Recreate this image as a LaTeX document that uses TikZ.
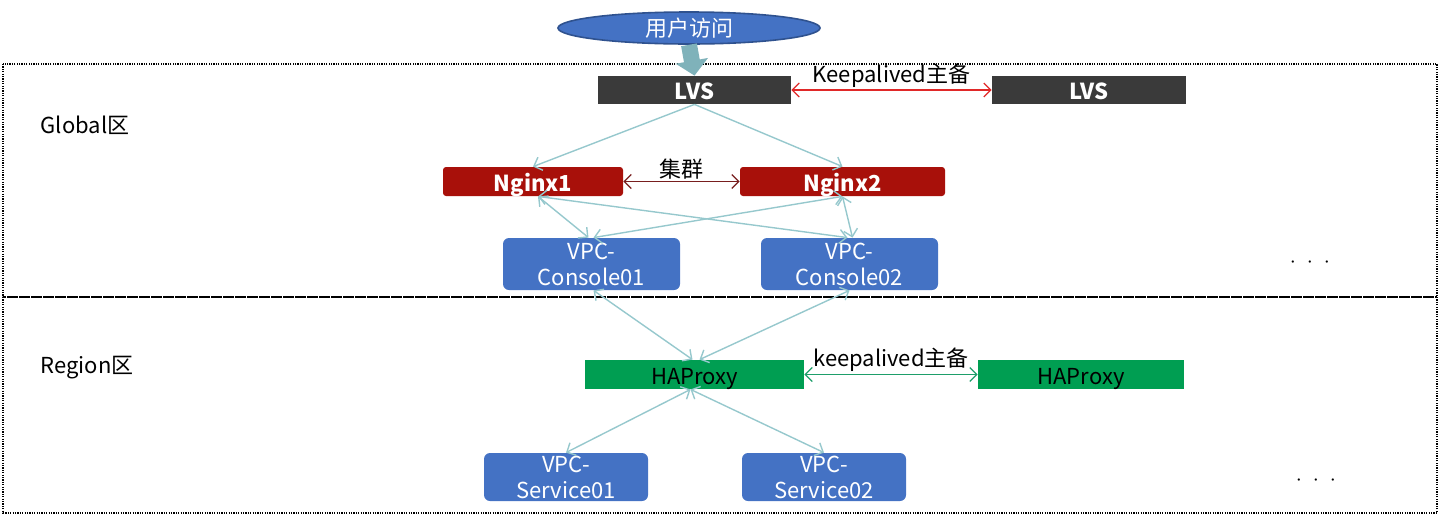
\documentclass[tikz,border=0pt]{standalone}
\usepackage{fontspec}
\setmainfont{Noto Sans CJK SC}
\usetikzlibrary{arrows.meta, positioning, calc, shapes.geometric}
\definecolor{cBlue}{RGB}{68,114,196}
\definecolor{cBlueDk}{RGB}{47,82,143}
\definecolor{cDark}{RGB}{58,58,58}
\definecolor{cRed}{RGB}{168,16,10}
\definecolor{cGreen}{RGB}{0,158,82}
\definecolor{cLink}{RGB}{150,200,205}
\definecolor{cFat}{RGB}{127,178,186}
\definecolor{cKeep}{RGB}{224,40,40}
\definecolor{cClus}{RGB}{120,30,30}
\definecolor{cKeepG}{RGB}{30,158,106}

\begin{document}
\begin{tikzpicture}[
  x=0.5pt, y=-0.5pt,
  font=\fontsize{11}{13}\selectfont,
  box/.style={inner sep=0pt, minimum height=14pt, text height=10pt, text depth=0.3pt},
  lvsbox/.style={box, fill=cDark, text=white, minimum width=96.5pt},
  ngbox/.style={box, fill=cRed, text=white, rounded corners=1.5pt,
                minimum height=14.5pt, font=\fontsize{11}{13}\selectfont\bfseries},
  vpcbox/.style={inner sep=0pt, align=center, fill=cBlue, text=white, rounded corners=3pt,
                 minimum width=88.5pt, minimum height=26pt},
  hapbox/.style={box, fill=cGreen, text=black, minimum height=14.5pt},
  zone/.style={draw, line width=0.8pt, dash pattern=on 0.6pt off 0.6pt},
  link/.style={draw=cLink, line width=0.7pt,
               {Straight Barb[length=3.5pt,width=7pt]}-{Straight Barb[length=3.5pt,width=7pt]}},
  linkto/.style={draw=cLink, line width=0.7pt, -{Straight Barb[length=3.5pt,width=7pt]}},
  pair/.style={line width=0.6pt,
               {Straight Barb[length=3.5pt,width=7pt]}-{Straight Barb[length=3.5pt,width=7pt]}}
]
\useasboundingbox (0,0) rectangle (1440,515);

%% ── ZONES ────────────────────────────────────────────────────────────────────

\draw[zone] (3,64) rectangle (1437,297);
\draw[zone] (3,297) rectangle (1437,513);
\node (gl) at (85,125) {Global区};
\node (rg) at (87,368) {Region区};
\node (dots1) at (1310,263) {$\cdot\;\cdot\;\cdot$};
\node (dots2) at (1316,481) {$\cdot\;\cdot\;\cdot$};

%% ── USER ACCESS ──────────────────────────────────────────────────────────────

\node[ellipse, draw=cBlueDk, line width=0.8pt, fill=cBlue, text=white, inner sep=0pt,
      minimum width=131pt, minimum height=16pt] (user) at (689,28) {用户访问};

%% ── GLOBAL ───────────────────────────────────────────────────────────────────

\node[lvsbox] (lvs1) at (694.5,90) {\bfseries LVS};
\node[lvsbox, minimum width=97pt] (lvs2) at (1089,90) {\bfseries LVS};

\node[ngbox, minimum width=90pt] (ng1) at (533,181.5) {Nginx1};
\node[ngbox, minimum width=102.5pt] (ng2) at (842.5,181.5) {Nginx2};

\node[vpcbox] (cons1) at (591.5,264) {VPC-\\Console01};
\node[vpcbox] (cons2) at (849.5,264) {VPC-\\Console02};

%% ── REGION ───────────────────────────────────────────────────────────────────

\node[hapbox, minimum width=109.5pt] (hap1) at (694.5,374.5) {HAProxy};
\node[hapbox, minimum width=103pt] (hap2) at (1081,374.5) {HAProxy};

\node[vpcbox, minimum width=82pt, minimum height=24pt] (svc1) at (566,477) {VPC-\\Service01};
\node[vpcbox, minimum width=82pt, minimum height=24pt] (svc2) at (824,477) {VPC-\\Service02};

%% ── ARROWS ───────────────────────────────────────────────────────────────────

\draw[cFat, line width=8pt, -{Triangle[width=16pt,length=7.5pt]}]
  (user.south) -- (lvs1.north);

\draw[pair, cKeep] (lvs1.east) -- node[above, text=black, inner sep=1pt] {Keepalived主备} (lvs2.west);
\draw[pair, cClus] (ng1.east) -- node[above, text=black, inner sep=1pt] {集群} (ng2.west);
\draw[pair, cKeepG] (hap1.east) -- node[above, text=black, inner sep=1pt] {keepalived主备} (hap2.west);

\draw[linkto] (lvs1.south) -- (ng1.north);
\draw[linkto] (lvs1.south) -- (ng2.north);

\draw[link] ([xshift=2.5pt]ng1.south) -- ([xshift=-1.5pt]cons1.north);
\draw[link] ([xshift=2.5pt]ng1.south) -- ([xshift=-1pt]cons2.north);
\draw[link] (ng2.south) -- ([xshift=1pt]cons1.north);
\draw[link] (ng2.south) -- ([xshift=1.5pt]cons2.north);

\draw[link] ([xshift=1pt]cons1.south) -- ([xshift=-1pt]hap1.north);
\draw[link] (cons2.south) -- ([xshift=2.5pt]hap1.north);

\draw[link] ([xshift=-2pt]hap1.south) -- (svc1.north);
\draw[link] ([xshift=-2pt]hap1.south) -- (svc2.north);

\end{tikzpicture}
\end{document}
